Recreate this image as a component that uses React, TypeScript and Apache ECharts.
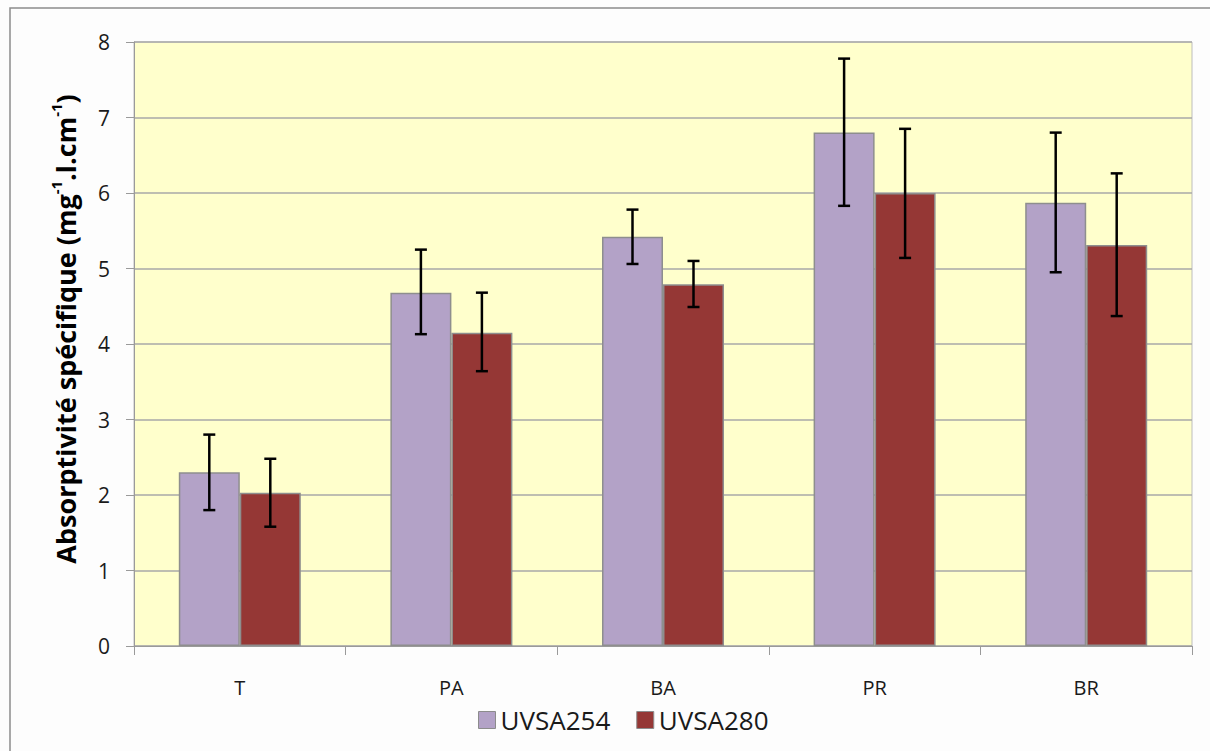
import React, { useEffect, useRef } from "react";
import * as echarts from "echarts";

const categories = ["T", "PA", "BA", "PR", "BR"];
const uvsa254 = [2.3, 4.68, 5.42, 6.8, 5.87];
const uvsa280 = [2.03, 4.15, 4.79, 6.0, 5.31];
const err254Low = [1.8, 4.13, 5.06, 5.83, 4.95];
const err254High = [2.8, 5.25, 5.78, 7.78, 6.8];
const err280Low = [1.58, 3.64, 4.49, 5.14, 4.37];
const err280High = [2.48, 4.68, 5.1, 6.85, 6.26];
const yTicks = [0, 1, 2, 3, 4, 5, 6, 7, 8];

const BAR_W = 61;
const FONT = "'Open Sans', 'Noto Sans', sans-serif";

function errSeries(name: string, low: number[], high: number[], offset: number) {
  return {
    type: "custom",
    name,
    z: 10,
    silent: true,
    data: categories.map((_, i) => [i, low[i], high[i]]),
    renderItem: (params: any, api: any) => {
      const i = api.value(0);
      const lo = api.coord([i, api.value(1)]);
      const hi = api.coord([i, api.value(2)]);
      const x = lo[0] + offset;
      const cap = 6;
      const style = { stroke: "#000", lineWidth: 2.5 };
      return {
        type: "group",
        children: [
          { type: "line", shape: { x1: x, y1: hi[1], x2: x, y2: lo[1] }, style },
          { type: "line", shape: { x1: x - cap, y1: hi[1], x2: x + cap, y2: hi[1] }, style },
          { type: "line", shape: { x1: x - cap, y1: lo[1], x2: x + cap, y2: lo[1] }, style },
        ],
      };
    },
  };
}

export default function App() {
  const ref = useRef<HTMLDivElement>(null);
  useEffect(() => {
    if (!ref.current) return;
    const chart = echarts.init(ref.current, null, { renderer: "svg" });
    chart.setOption({
      animation: false,
      backgroundColor: "#fdfdfd",
      textStyle: { fontFamily: FONT },
      graphic: [
        {
          type: "rect",
          shape: { x: 10, y: 8, width: 1215, height: 760 },
          style: { fill: "none", stroke: "#8c8c8c", lineWidth: 1.5 },
          silent: true,
        },
      ],
      grid: {
        left: 134,
        right: 18,
        top: 42,
        bottom: 105,
        show: true,
        backgroundColor: "#ffffcc",
        borderColor: "#bdbdbd",
        borderWidth: 1,
      },
      legend: {
        left: 473,
        top: 702,
        itemWidth: 17,
        itemHeight: 17,
        itemGap: 26,
        icon: "rect",
        textStyle: { fontSize: 26, color: "#1a1a1a", fontFamily: FONT },
        data: [
          { name: "UVSA254", itemStyle: { borderColor: "#8c8c8c", borderWidth: 1 } },
          { name: "UVSA280", itemStyle: { borderColor: "#8c8c8c", borderWidth: 1 } },
        ],
      },
      xAxis: {
        type: "category",
        data: categories,
        axisLine: { show: true, lineStyle: { color: "#9a9a9a", width: 1 } },
        axisTick: { show: true, length: 9, lineStyle: { color: "#9a9a9a" } },
        axisLabel: { fontSize: 20, color: "#1a1a1a", margin: 31, fontFamily: FONT },
      },
      yAxis: {
        type: "value",
        min: 0,
        max: 8,
        interval: 1,
        name: "{m|Absorptivité spécifique (mg}{s|-1}{m|.l.cm}{s|-1}{m|)}",
        nameLocation: "middle",
        nameGap: 52,
        nameTextStyle: {
          padding: [0, 0, 0, 30],
          rich: {
            m: { fontSize: 27, fontWeight: "bold", color: "#000", fontFamily: FONT, lineHeight: 34 },
            s: { fontSize: 15, fontWeight: "bold", color: "#000", fontFamily: FONT, verticalAlign: "top", lineHeight: 22 },
          },
        },
        axisLine: { show: true, lineStyle: { color: "#9a9a9a", width: 1 } },
        axisTick: { show: true, length: 8, lineStyle: { color: "#9a9a9a" } },
        axisLabel: {
          fontSize: 21,
          color: "#1a1a1a",
          margin: 24,
          fontFamily: FONT,
          formatter: (v: number) => (yTicks.includes(v) ? String(v) : ""),
        },
        splitLine: { show: true, lineStyle: { color: "#a8a8a8", width: 1.5 } },
      },
      series: [
        {
          type: "bar",
          name: "UVSA254",
          data: uvsa254,
          barWidth: BAR_W,
          barGap: "0%",
          itemStyle: { color: "#b3a2c7", borderColor: "#8e8e8e", borderWidth: 1.5 },
        },
        {
          type: "bar",
          name: "UVSA280",
          data: uvsa280,
          barWidth: BAR_W,
          barGap: "0%",
          itemStyle: { color: "#953735", borderColor: "#8e8e8e", borderWidth: 1.5 },
        },
        errSeries("e254", err254Low, err254High, -BAR_W / 2),
        errSeries("e280", err280Low, err280High, BAR_W / 2),
      ],
    });
    return () => chart.dispose();
  }, []);
  return <div ref={ref} style={{ width: 1210, height: 751, position: "absolute", left: 0, top: 0 }} />;
}
